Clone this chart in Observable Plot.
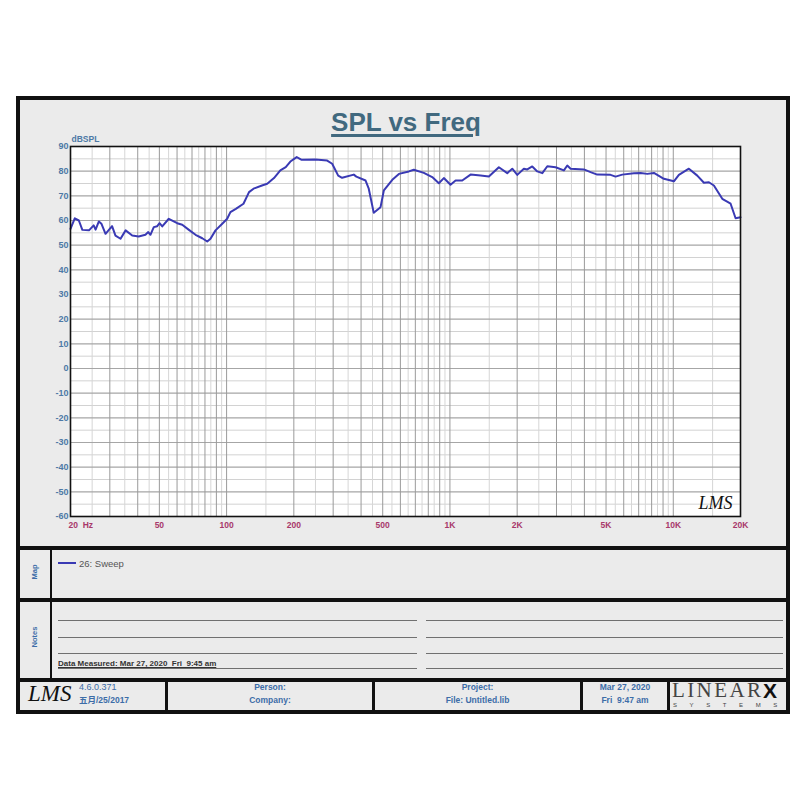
<!DOCTYPE html>
<html><head><meta charset="utf-8">
<script src="https://cdn.jsdelivr.net/npm/d3@7"></script>
<script src="https://cdn.jsdelivr.net/npm/@observablehq/plot@0.6"></script>
<style>
html,body{margin:0;padding:0;background:#fff;}
#page{position:relative;width:800px;height:800px;overflow:hidden;font-family:"Liberation Sans",Arial,"Noto Sans CJK SC",sans-serif;}
#page div{position:absolute;}
.bar{background:#111;}
.rule{background:#707070;height:1px;}
.t{white-space:pre;line-height:1;}
.ft{color:#3d6da8;font-weight:bold;font-size:8.5px;text-align:center;line-height:1;white-space:pre;}
.rot{transform:translate(-50%,-50%) rotate(-90deg);color:#3d6da8;font-weight:bold;font-size:7.5px;line-height:1;white-space:pre;}
</style></head><body>
<div id="page">
  <div style="left:16px;top:96px;width:774px;height:618px;box-sizing:border-box;border:4px solid #111;background:#ebebeb;"></div>
  <div id="chart" style="left:0;top:0;"></div>
  <div class="t" style="left:0;width:812px;top:109px;text-align:center;font-size:26px;line-height:26px;font-weight:bold;color:#41697f;text-decoration:underline;text-decoration-thickness:2.5px;text-underline-offset:3px;">SPL vs Freq</div>

  <div class="bar" style="left:16px;top:546px;width:774px;height:4px;"></div>
  <div class="bar" style="left:16px;top:598px;width:774px;height:4px;"></div>
  <div class="bar" style="left:16px;top:678px;width:774px;height:4px;"></div>
  <div class="bar" style="left:49.5px;top:548px;width:2.5px;height:132px;"></div>
  <div class="bar" style="left:165px;top:680px;width:3px;height:32px;"></div>
  <div class="bar" style="left:372px;top:680px;width:3px;height:32px;"></div>
  <div class="bar" style="left:580px;top:680px;width:3px;height:32px;"></div>
  <div class="bar" style="left:666.5px;top:680px;width:3px;height:32px;"></div>

  <div class="rot" style="left:35px;top:571.5px;">Map</div>
  <div class="rot" style="left:35px;top:636.5px;">Notes</div>

  <div style="left:58px;top:562px;width:18px;height:2px;background:#3a3ab4;"></div>
  <div class="t" style="left:79px;top:558.5px;font-size:9.5px;color:#555;">26: Sweep</div>

  <div class="rule" style="left:58px;top:620px;width:359px;"></div>
  <div class="rule" style="left:58px;top:636.5px;width:359px;"></div>
  <div class="rule" style="left:58px;top:652.5px;width:359px;"></div>
  <div class="rule" style="left:58px;top:668px;width:359px;"></div>
  <div class="rule" style="left:426px;top:620px;width:357px;"></div>
  <div class="rule" style="left:426px;top:636.5px;width:357px;"></div>
  <div class="rule" style="left:426px;top:652.5px;width:357px;"></div>
  <div class="rule" style="left:426px;top:668px;width:357px;"></div>
  <div class="t" style="left:58px;top:660px;font-size:8px;font-weight:bold;color:#333;text-decoration:underline;">Data Measured: Mar 27, 2020  Fri  9:45 am</div>

  <div class="t" style="left:28px;top:682px;font-size:23px;font-style:italic;font-family:'Liberation Serif',serif;color:#111;">LMS</div>
  <div class="t" style="left:79px;top:683px;font-size:9px;color:#3d6da8;">4.6.0.371</div>
  <div class="t" style="left:79px;top:696px;font-size:8.5px;color:#3d6da8;font-weight:bold;">五月/25/2017</div>
  <div class="ft" style="left:168px;width:204px;top:683px;">Person:</div>
  <div class="ft" style="left:168px;width:204px;top:696px;">Company:</div>
  <div class="ft" style="left:375px;width:205px;top:683px;">Project:</div>
  <div class="ft" style="left:375px;width:205px;top:696px;">File: Untitled.lib</div>
  <div class="ft" style="left:583px;width:84px;top:683px;">Mar 27, 2020</div>
  <div class="ft" style="left:583px;width:84px;top:696px;">Fri  9:47 am</div>
  <div class="t" style="left:672px;top:680px;font-size:21px;font-family:'Liberation Serif',serif;color:#444;letter-spacing:2.4px;">LINEAR</div>
  <div class="t" style="left:763px;top:680px;font-size:21px;font-family:'Liberation Sans',sans-serif;font-weight:bold;color:#111;">X</div>
  <div class="t" style="left:673px;top:702px;font-size:6px;color:#444;letter-spacing:12.6px;">SYSTEMS</div>
</div>
<script>
const freq = [20,20.9,21.8,22.6,24.2,25.4,25.9,26.8,27.5,28.7,30.7,31.8,33.5,35.3,37.8,40.4,43.3,44.6,45.6,47.2,48.9,50.1,51.5,55.1,60.1,63.3,67.8,72.6,77.8,81.9,84.7,89.2,95.6,100.6,104,110,119,126,132,144,152,163,174,184,193,206,217,250,282,297,316,329,371,381,419,433,456,489,506,552,591,655,689,764,833,892,939,1006,1060,1135,1237,1372,1494,1656,1806,1901,2002,2143,2220,2337,2461,2592,2729,2972,3238,3353,3470,3978,4263,4568,5240,5516,5910,6664,7140,7650,8190,9078,10064,10596,11746,12810,13716,14440,15200,16576,18062,19014,20000];
const spl = [56.6,60.9,60,56.2,56,58,56.3,59.6,58.7,54.6,57.7,53.9,52.6,56,53.9,53.5,54.2,55.3,54.2,57.3,57.7,58.9,57.6,60.7,58.9,58.3,56.2,54.2,52.8,51.5,52.6,56,58.7,60.7,63.4,64.7,66.8,71.5,72.9,74.2,74.9,77.2,80.3,81.6,83.9,85.7,84.6,84.7,84.3,83,78.2,77.3,78.6,77.8,76.2,72.9,63.1,65.4,72.2,76.5,78.9,79.9,80.6,79.3,77.6,75.1,77.2,74.5,76.2,76.2,78.6,78.2,77.8,81.6,79.2,81,78.5,81,80.7,81.9,79.9,79.2,82,81.6,80.3,82.3,81,80.7,79.6,78.6,78.5,77.8,78.6,79.2,79.3,78.9,79.3,76.9,75.9,78.5,81,78.2,75.3,75.5,74.2,68.8,66.8,60.9,61.3];
const xTickValues = [20,50,100,200,500,1000,2000,5000,10000,20000];
const xTickLabels = ["20\u00a0\u00a0Hz","50","100","200","500","1K","2K","5K","10K","20K"];
const yTickValues = [90,80,70,60,50,40,30,20,10,0,-10,-20,-30,-40,-50,-60];
const decades = [10,100,1000,10000];
const gridMultipliers = [1,1.5,2,2.5,3,3.5,4,4.5,5,5.5,6,6.5,7,7.5,8,8.5,9,9.5];

const data = freq.map((f, i) => ({f, v: spl[i]}));
const gridX = decades.flatMap(d => gridMultipliers.map(m => ({f: d * m, major: Number.isInteger(m)})))
  .filter(g => g.f > 20 && g.f < 20000);
const majorX = gridX.filter(g => g.major).map(g => g.f);
const minorX = gridX.filter(g => !g.major).map(g => g.f);
const majorY = yTickValues.filter(v => v > -60 && v < 90);
const minorY = yTickValues.slice(0, -1).map(v => v - 5);

const labelFont = "Liberation Sans, Arial, sans-serif";
const chart = Plot.plot({
  width: 800,
  height: 548,
  marginTop: 146,
  marginBottom: 32,
  marginLeft: 70,
  marginRight: 60,
  style: {background: "transparent", overflow: "visible"},
  x: {type: "log", domain: [20, 20000], axis: null},
  y: {domain: [-60, 90], axis: null},
  marks: [
    Plot.frame({fill: "white", stroke: "none"}),
    Plot.ruleY(minorY, {stroke: "#d2d2d2", strokeWidth: 1}),
    Plot.ruleX(minorX, {stroke: "#d6d6d6", strokeWidth: 1}),
    Plot.ruleY(majorY, {stroke: "#a6a6a6", strokeWidth: 1.2}),
    Plot.ruleX(majorX, {stroke: "#9a9a9a", strokeWidth: 1}),
    Plot.line(data, {x: "f", y: "v", stroke: "#3a3ab4", strokeWidth: 2}),
    Plot.frame({stroke: "#111", strokeWidth: 1.6}),
    Plot.text(yTickValues, {y: d => d, text: d => String(d), frameAnchor: "left", textAnchor: "end", dx: -2,
      fill: "#4d79a6", fontWeight: "bold", fontSize: 9, fontFamily: labelFont}),
    Plot.text(xTickValues.slice(0, 1), {x: d => d, text: (d, i) => xTickLabels[i], frameAnchor: "bottom", textAnchor: "start", dx: -2, dy: 8.5, lineAnchor: "middle",
      fill: "#a8386a", fontWeight: "bold", fontSize: 8.5, fontFamily: labelFont}),
    Plot.text(xTickValues.slice(1), {x: d => d, text: (d, i) => xTickLabels[i + 1], frameAnchor: "bottom", textAnchor: "middle", dy: 8.5, lineAnchor: "middle",
      fill: "#a8386a", fontWeight: "bold", fontSize: 8.5, fontFamily: labelFont}),
    Plot.text(["dBSPL"], {frameAnchor: "top-left", textAnchor: "start", dx: 1, dy: -7, lineAnchor: "middle",
      fill: "#4d79a6", fontWeight: "bold", fontSize: 8.5, fontFamily: labelFont}),
    Plot.text(["LMS"], {frameAnchor: "bottom-right", textAnchor: "end", dx: -8, dy: -13, lineAnchor: "middle",
      fill: "#111", fontStyle: "italic", fontSize: 18, fontFamily: "Liberation Serif, serif"})
  ]
});
document.getElementById("chart").appendChild(chart);
</script>
</body></html>
